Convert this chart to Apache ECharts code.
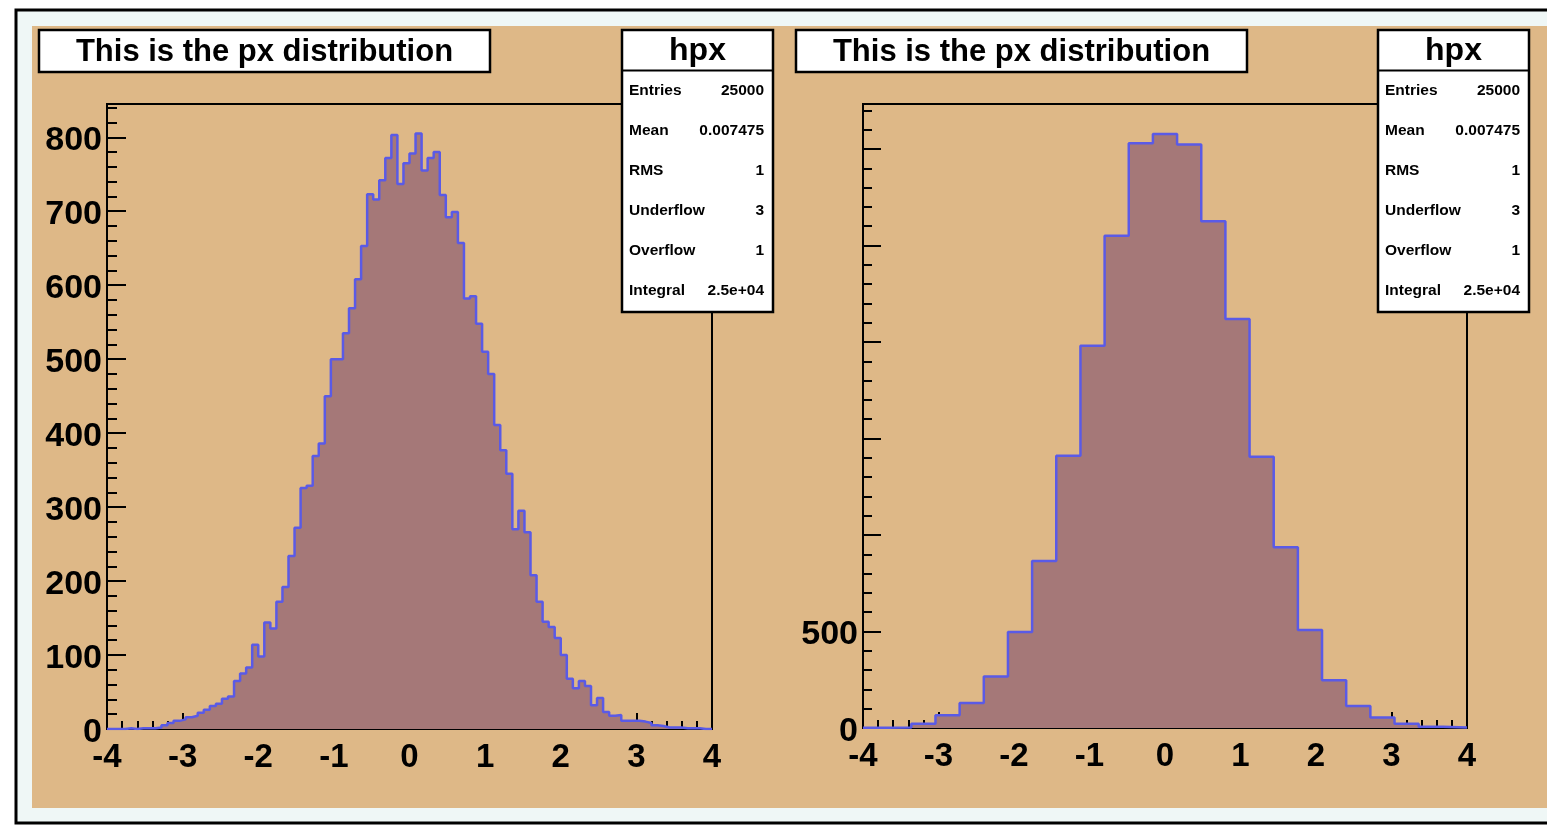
<!DOCTYPE html>
<html>
<head>
<meta charset="utf-8">
<script src="https://cdn.jsdelivr.net/npm/echarts@6/dist/echarts.min.js"></script>
<style>
  html, body { margin: 0; padding: 0; background: #ffffff; }
  #chart { width: 1547px; height: 826px; }
</style>
</head>
<body>
<div id="chart"></div>
<script>
// ---- histogram definition: hpx, 100 bins on [-4, 4] ----
const xMin = -4;
const xMax = 4;

// bin contents of hpx (100 bins of width 0.08)
const hpxCounts = [
  0, 0, 0, 1, 0, 1, 1, 1,
  2, 5, 8, 11,
  13, 16, 18, 22,
  26, 31, 34, 41,
  44, 65, 75, 83,
  114, 98, 144, 136,
  172, 192, 234, 272,
  326, 329, 369, 386,
  450, 500, 500, 535,
  569, 608, 653, 723,
  716, 742, 772, 803,
  737, 765, 778, 805,
  755, 772, 780, 722,
  692, 699, 657, 582,
  585, 548, 510, 480,
  411, 377, 345, 270,
  295, 266, 208, 172,
  145, 138, 123, 100,
  68, 55, 65, 58,
  32, 42, 23, 18,
  19, 11, 11, 11,
  10, 8, 5, 4,
  2, 2, 2, 1, 1, 1, 0, 0
];

// the same histogram rebinned by 4 (25 bins of width 0.32)
const hpxRebinned = [
  1, 3, 22, 66, 129, 267, 497, 865, 1411, 1981, 2550, 3030, 3078,
  3023, 2626, 2119, 1406, 937, 508, 248, 114, 55, 22, 6, 2
];

// y-axis ranges (maximum bin * 1.05)
const yMaxFine = 845;
const yMaxRebinned = 3233;

// tick labels
const xTickLabels = [-4, -3, -2, -1, 0, 1, 2, 3, 4];
const yTickLabelsFine = [0, 100, 200, 300, 400, 500, 600, 700, 800];
const yTickLabelsRebinned = [0, 500];

// pave texts
const titleText = 'This is the px distribution';
const histName = 'hpx';
const statNames = ['Entries', 'Mean', 'RMS', 'Underflow', 'Overflow', 'Integral'];
const statValues = ['25000', '0.007475', '1', '3', '1', '2.5e+04'];

// ---- styling ----
const FONT = '"Liberation Sans", Arial, Helvetica, sans-serif';
const PAD = '#deb887';
const BEZEL = '#eff7f6';
const FILL = '#a57878';
const LINE = '#5a5ae6';

// left edges of every bin plus the closing edge, for a step outline
function stepPoints(counts) {
  const w = (xMax - xMin) / counts.length;
  const pts = counts.map((c, i) => [xMin + i * w, c]);
  pts.push([xMax, counts[counts.length - 1]]);
  return pts;
}

const grids = [
  { left: 107, top: 104, width: 605, height: 625 },
  { left: 863, top: 104, width: 604, height: 624 }
];

const tickStyle = { color: '#000', width: 2 };

function xAxisFor(g) {
  return {
    gridIndex: g, type: 'value', position: 'bottom', min: xMin, max: xMax, interval: 1,
    axisLine: { show: true, onZero: false, lineStyle: { color: '#000', width: 2 } },
    axisTick: { show: true, inside: true, length: 16, lineStyle: tickStyle },
    minorTick: { show: true, splitNumber: 5, length: 8, lineStyle: tickStyle },
    splitLine: { show: false },
    minorSplitLine: { show: false },
    axisLabel: {
      show: true, margin: 12, color: '#000', fontFamily: FONT, fontWeight: 'bold', fontSize: 33,
      formatter: v => {
        const r = Math.round(v);
        return (Math.abs(v - r) < 1e-9 && xTickLabels.indexOf(r) >= 0) ? String(r) : '';
      }
    }
  };
}

function yMajor(g, max, step, len, labels) {
  const labelFont = { color: '#000', fontFamily: FONT, fontWeight: 'bold', fontSize: 34 };
  return {
    gridIndex: g, type: 'value', position: 'left', min: 0, max: max, interval: step,
    axisLine: { show: true, onZero: false, lineStyle: { color: '#000', width: 2 } },
    axisTick: { show: true, inside: true, length: len, lineStyle: tickStyle },
    splitLine: { show: false },
    axisLabel: Object.assign({
      show: true, margin: 5, showMaxLabel: false,
      rich: { n: Object.assign({ padding: [7, 0, 0, 0] }, labelFont) },
      formatter: v => labels.indexOf(v) >= 0 ? '{n|' + v + '}' : ''
    }, labelFont)
  };
}

function yMinor(g, max, step, len) {
  return {
    gridIndex: g, type: 'value', position: 'left', offset: 0, min: 0, max: max, interval: step,
    axisLine: { show: false, onZero: false },
    axisTick: { show: true, inside: true, length: len, lineStyle: tickStyle },
    splitLine: { show: false },
    axisLabel: { show: false }
  };
}

function histSeries(g, yIdx, counts) {
  return {
    type: 'line', xAxisIndex: g, yAxisIndex: yIdx, step: 'end',
    data: stepPoints(counts), showSymbol: false, symbol: 'none', clip: true,
    lineStyle: { color: LINE, width: 2.5 },
    areaStyle: { color: FILL, opacity: 1, origin: 'start' },
    z: 3
  };
}

// pave boxes: title and statistics
function titlePave(x) {
  return [
    { type: 'rect', shape: { x: x, y: 30, width: 451, height: 42 }, style: { fill: '#fff', stroke: '#000', lineWidth: 2.5 }, z: 100 },
    { type: 'text', x: x + 225.5, y: 52, style: { text: titleText, font: 'bold 31px ' + FONT, fill: '#000', align: 'center', verticalAlign: 'middle' }, z: 101 }
  ];
}

function statsPave(x) {
  const w = 151;
  const els = [
    { type: 'rect', shape: { x: x, y: 30, width: w, height: 282 }, style: { fill: '#fff', stroke: '#000', lineWidth: 2.5 }, z: 100 },
    { type: 'line', shape: { x1: x, y1: 70.5, x2: x + w, y2: 70.5 }, style: { stroke: '#000', lineWidth: 2 }, z: 101 },
    { type: 'text', x: x + w / 2, y: 51, style: { text: histName, font: 'bold 32px ' + FONT, fill: '#000', align: 'center', verticalAlign: 'middle' }, z: 101 }
  ];
  statNames.forEach((n, i) => {
    const y = 91 + i * 40;
    els.push({ type: 'text', x: x + 7, y: y, style: { text: n, font: 'bold 15.5px ' + FONT, fill: '#000', align: 'left', verticalAlign: 'middle' }, z: 101 });
    els.push({ type: 'text', x: x + w - 9, y: y, style: { text: statValues[i], font: 'bold 15.5px ' + FONT, fill: '#000', align: 'right', verticalAlign: 'middle' }, z: 101 });
  });
  return els;
}

const background = [
  { type: 'rect', shape: { x: 16, y: 10, width: 1600, height: 813 }, style: { fill: BEZEL, stroke: '#000', lineWidth: 3 }, z: -20 },
  { type: 'rect', shape: { x: 32, y: 26, width: 1520, height: 782 }, style: { fill: PAD }, z: -19 }
];

const chart = echarts.init(document.getElementById('chart'), null, { renderer: 'canvas' });
chart.setOption({
  animation: false,
  backgroundColor: '#ffffff',
  grid: grids.map(g => Object.assign({ show: true, borderColor: '#000', borderWidth: 2, backgroundColor: 'transparent', containLabel: false }, g)),
  xAxis: [xAxisFor(0), xAxisFor(1)],
  yAxis: [
    yMajor(0, yMaxFine, 100, 19, yTickLabelsFine),
    yMinor(0, yMaxFine, 20, 10),
    yMajor(1, yMaxRebinned, 500, 18, yTickLabelsRebinned),
    yMinor(1, yMaxRebinned, 100, 9)
  ],
  series: [
    histSeries(0, 0, hpxCounts),
    histSeries(1, 2, hpxRebinned)
  ],
  graphic: [].concat(background, titlePave(39), statsPave(622), titlePave(796), statsPave(1378))
});
</script>
</body>
</html>
